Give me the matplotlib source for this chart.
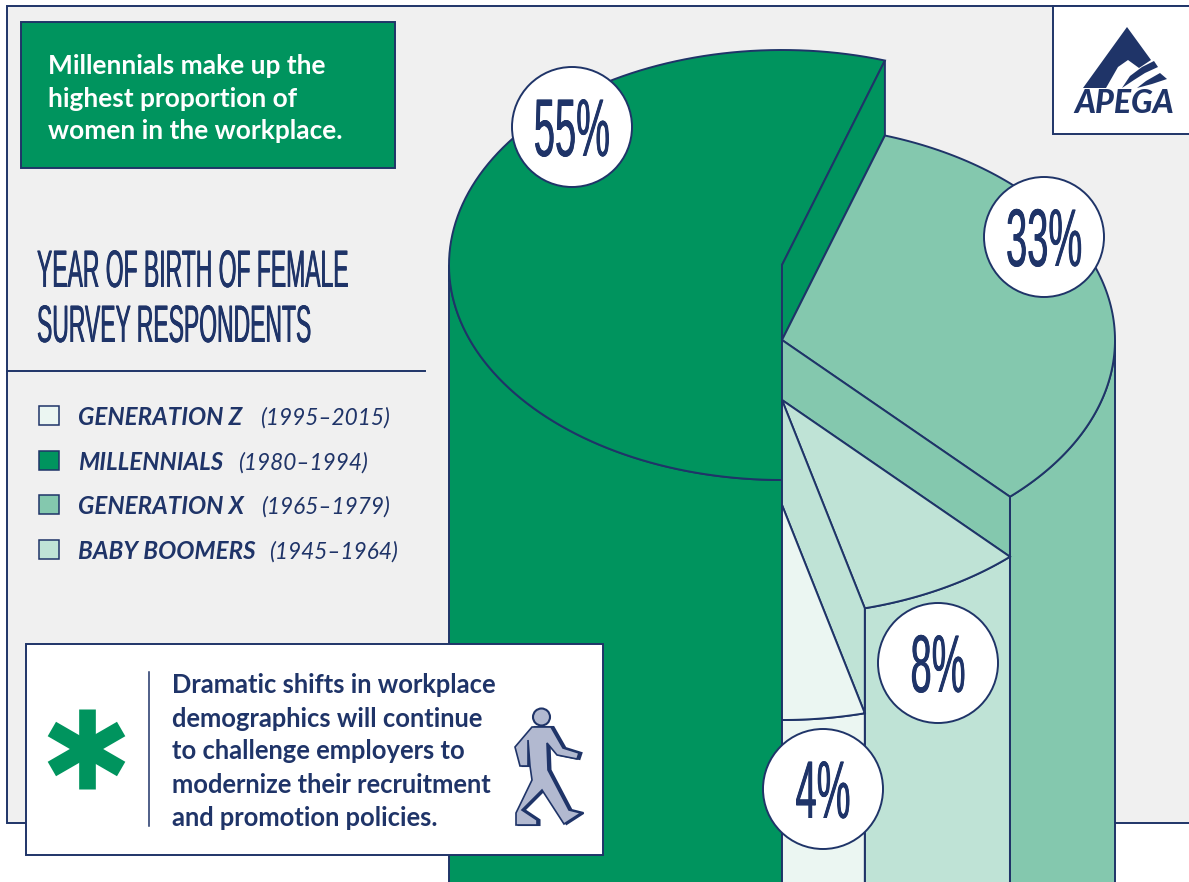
import numpy as np
import matplotlib
matplotlib.use('Agg')
import matplotlib.pyplot as plt
from matplotlib.patches import Rectangle, Polygon, Circle
from matplotlib.patheffects import AbstractPathEffect
from matplotlib.transforms import Affine2D

# data, clockwise from the bottom of the pie
generations = ['MILLENNIALS', 'GENERATION X', 'BABY BOOMERS', 'GENERATION Z']
shares = [55, 33, 8, 4]
years = ['(1980–1994)', '(1965–1979)', '(1945–1964)', '(1995–2015)']

legend_order = ['GENERATION Z', 'MILLENNIALS', 'GENERATION X', 'BABY BOOMERS']
headline = ['Millennials make up the', 'highest proportion of', 'women in the workplace.']
title = ['YEAR OF BIRTH OF FEMALE', 'SURVEY RESPONDENTS']
note = ['Dramatic shifts in workplace', 'demographics will continue', 'to challenge employers to',
        'modernize their recruitment', 'and promotion policies.']

NAVY = '#1f3468'
GREY = '#f0f0f0'
colors = {'MILLENNIALS': '#00945e', 'GENERATION X': '#84c8ae',
          'BABY BOOMERS': '#bfe3d6', 'GENERATION Z': '#ebf6f2'}

# pie layout, in pixels
W, H = 1189, 882
CX, RX, RY = 782, 333, 215
top_y = [265, 340, 400, 505]
label_pos = [(572, 127), (1044, 237), (938, 663), (823, 789)]
LW = 1.4


class Tall(AbstractPathEffect):
    # no condensed poster font here, so stretch the glyphs upward
    # and smear them sideways a little to keep the stems heavy
    def __init__(self, k, smear):
        self.k = k
        self.smear = smear

    def draw_path(self, renderer, gc, tpath, affine, rgbFace=None):
        for dx in (-self.smear, 0, self.smear):
            tr = Affine2D().scale(1, self.k) + affine + Affine2D().translate(dx, 0)
            renderer.draw_path(gc, tpath, tr, rgbFace)


def arc(cy, a, b):
    t = np.radians(np.linspace(a, b, 120))
    return np.column_stack([CX + RX * np.cos(t), cy + RY * np.sin(-t)])


fig = plt.figure(figsize=(W / 100, H / 100), dpi=100, facecolor='white')
ax = fig.add_axes([0, 0, 1, 1])
ax.set_xlim(0, W)
ax.set_ylim(H, 0)
ax.axis('off')


def box(x0, y0, x1, y1, fc, z, lw=LW):
    ax.add_patch(Rectangle((x0, y0), x1 - x0, y1 - y0, fc=fc, ec=NAVY, lw=lw, zorder=z))


box(7, 6, W + 10, 823, GREY, 1)
box(1053, 6, W + 10, 134, 'white', 2)
box(21, 22, 395, 168, colors['MILLENNIALS'], 2)
ax.plot([7, 425], [371, 371], color=NAVY, lw=LW, zorder=2)

# pie slices, each one dropped lower than the one before
start = 270
angles = []
for share in shares:
    angles.append((start, start - share * 3.6))
    start -= share * 3.6

for i, gen in enumerate(generations):
    a, b = angles[i]
    c = colors[gen]
    y0 = top_y[i]
    # outer wall: only the front half of the rim shows
    if i == 0:
        rim = arc(y0, a, 180)
    elif a > 0 and b < 0:
        rim = arc(y0, 0, b)
    else:
        rim = arc(y0, a, b)
    wall = np.vstack([rim, [rim[-1, 0], H + 10], [rim[0, 0], H + 10]])
    ax.add_patch(Polygon(wall, closed=True, fc=c, ec=NAVY, lw=LW, zorder=3 + i))
    # top face
    face = np.vstack([[CX, y0], arc(y0, a, b)])
    ax.add_patch(Polygon(face, closed=True, fc=c, ec=NAVY, lw=LW, zorder=3 + i))
    # cut side between this slice and the next
    if i < 3:
        h = top_y[i + 1] - y0
        ex, ey = arc(y0, b, b)[0]
        side = [(CX, y0), (ex, ey), (ex, ey + h), (CX, y0 + h)]
        ax.add_patch(Polygon(side, closed=True, fc=c, ec=NAVY, lw=LW, zorder=3 + i))

# percent badges
for i, share in enumerate(shares):
    x, y = label_pos[i]
    ax.add_patch(Circle((x, y), 60, fc='white', ec=NAVY, lw=LW, zorder=10))
    txt = ax.text(x, y + 29, f'{share}%', ha='center', va='baseline', color=NAVY,
                  family='Liberation Sans', fontsize=27.4, zorder=11)
    txt.set_path_effects([Tall(2.15, 0.35)])

# headline box
for line, y in zip(headline, [74, 107, 139]):
    ax.text(48, y, line, color='white', family='Lato', weight='bold', fontsize=18.9,
            va='baseline', zorder=3)

# title
for line, y in zip(title, [287, 342]):
    txt = ax.text(37, y, line, color=NAVY, family='Liberation Sans', fontsize=16.5,
                  va='baseline', zorder=3)
    txt.set_path_effects([Tall(2.3, 0.35)])

# legend
leg_y = [425, 470, 514, 559]
year_x = [260, 238, 261, 269]
for gen, y, xx in zip(legend_order, leg_y, year_x):
    box(39, y - 19, 59, y, colors[gen], 3, lw=1.1)
    ax.text(78, y, gen, color=NAVY, family='Lato', weight='bold', style='italic', fontsize=17.4,
            va='baseline', zorder=3)
    ax.text(xx, y, years[generations.index(gen)], color=NAVY, family='Lato', style='italic',
            fontsize=16.3, va='baseline', zorder=3)

# note box
box(26, 644, 603, 855, 'white', 12)
ax.plot([149, 149], [672, 826], color=NAVY, lw=1.1, zorder=13)
for deg in [90, 30, -30]:
    t = np.radians(deg)
    ax.plot([86.5 - 40 * np.cos(t), 86.5 + 40 * np.cos(t)], [749 - 40 * np.sin(t), 749 + 40 * np.sin(t)],
            color=colors['MILLENNIALS'], lw=12, solid_capstyle='butt', zorder=13)
for line, y in zip(note, [693, 727, 759, 793, 826]):
    ax.text(172, y, line, color=NAVY, family='Lato', weight='bold', fontsize=18.4,
            va='baseline', zorder=13)

# walking figure
walker = [(532, 727), (551, 727), (563, 748), (579, 753), (577, 759), (557, 755), (547, 743),
          (548, 770), (569, 810), (581, 813), (564, 824), (542, 790), (522, 810), (537, 820),
          (537, 825), (516, 825), (516, 813), (532, 780), (530, 766), (528, 740), (528, 766),
          (520, 766), (515, 747)]
ax.add_patch(Polygon(np.array(walker) + [2.5, 0], closed=True, fc=NAVY, ec=NAVY, lw=1.5, zorder=13))
ax.add_patch(Polygon(walker, closed=True, fc='#b2b9d0', ec=NAVY, lw=1.2, zorder=14))
ax.add_patch(Circle((541.5, 717), 8.5, fc='#b2b9d0', ec=NAVY, lw=1.5, zorder=14))

# logo
ax.add_patch(Polygon([(1127, 27), (1151, 60), (1139, 68), (1128, 60), (1118, 67), (1106, 88), (1083, 88)],
                     closed=True, fc=NAVY, ec='none', zorder=3))
ax.add_patch(Polygon([(1122, 88), (1130, 76), (1142, 67), (1154, 61), (1158, 67), (1145, 73), (1134, 80)],
                     closed=True, fc=NAVY, ec='none', zorder=3))
ax.add_patch(Polygon([(1137, 88), (1146, 81), (1160, 73), (1167, 79), (1152, 84)],
                     closed=True, fc=NAVY, ec='none', zorder=3))
ax.text(1124, 113, 'APEGA', color=NAVY, family='Lato', weight='black', style='italic', fontsize=23,
        ha='center', va='baseline', zorder=3)

fig.savefig('out.png', dpi=100)
